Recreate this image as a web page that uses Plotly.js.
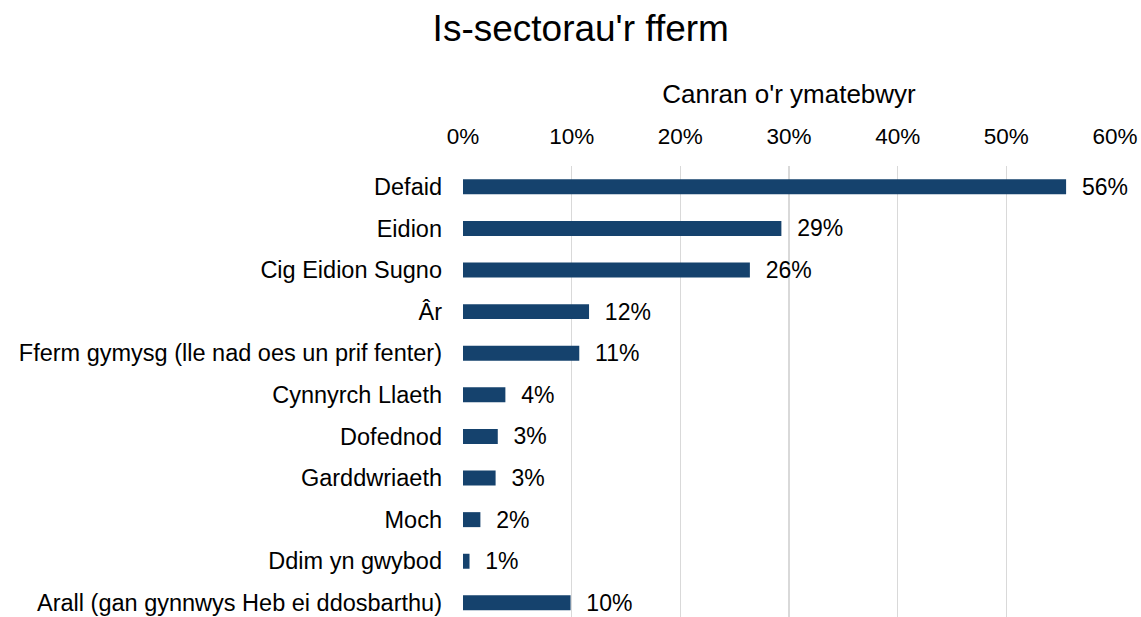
<!DOCTYPE html>
<html>
<head>
<meta charset="utf-8">
<script src="https://cdn.plot.ly/plotly-3.0.1.min.js"></script>
<style>html,body{margin:0;padding:0;background:#fff;}#chart{width:1141px;height:617px;}</style>
</head>
<body>
<div id="chart"></div>
<script>
const categories = [
  "Defaid",
  "Eidion",
  "Cig Eidion Sugno",
  "Âr",
  "Fferm gymysg (lle nad oes un prif fenter)",
  "Cynnyrch Llaeth",
  "Dofednod",
  "Garddwriaeth",
  "Moch",
  "Ddim yn gwybod",
  "Arall (gan gynnwys Heb ei ddosbarthu)"
];
const values = [55.5, 29.3, 26.4, 11.6, 10.7, 3.9, 3.2, 3.0, 1.6, 0.6, 9.9];
const tickVals = [0, 10, 20, 30, 40, 50, 60];
const tickText = ["0%", "10%", "20%", "30%", "40%", "50%", "60%"];

const trace = {
  type: "bar",
  orientation: "h",
  y: categories,
  x: values,
  marker: {color: "#15426d"},
  texttemplate: "\u00a0\u00a0%{x:.0f}%",
  textposition: "outside",
  constraintext: "none",
  cliponaxis: false,
  textfont: {family: "Liberation Sans, Arial, sans-serif", size: 23, color: "#000"},
  hoverinfo: "none"
};

const layout = {
  width: 1141,
  height: 617,
  margin: {l: 463, r: 26, t: 166, b: 0},
  paper_bgcolor: "#fff",
  plot_bgcolor: "#fff",
  font: {family: "Liberation Sans, Arial, sans-serif", color: "#000"},
  title: {
    text: "Is-sectorau'r fferm",
    font: {size: 37, color: "#000"},
    x: 0.509, xref: "container", xanchor: "center",
    y: 0.955, yref: "container", yanchor: "middle"
  },
  bargap: 0.64,
  showlegend: false,
  xaxis: {
    side: "top",
    range: [0, 60],
    tickvals: tickVals,
    ticktext: tickText,
    tickfont: {size: 22.5, color: "#000"},
    showgrid: true,
    gridcolor: "#d9d9d9",
    gridwidth: 1.5,
    zeroline: false,
    showline: false,
    ticks: "",
    ticklabelstandoff: 17,
    title: {text: "Canran o'r ymatebwyr", font: {size: 26, color: "#000"}, standoff: 12}
  },
  yaxis: {
    type: "category",
    range: [10.34, -0.5],
    tickfont: {size: 23.5, color: "#000"},
    ticks: "",
    ticklabelstandoff: 20,
    showgrid: false,
    showline: false,
    zeroline: false,
    automargin: false
  }
};

Plotly.newPlot("chart", [trace], layout, {displayModeBar: false, staticPlot: true});
</script>
</body>
</html>
